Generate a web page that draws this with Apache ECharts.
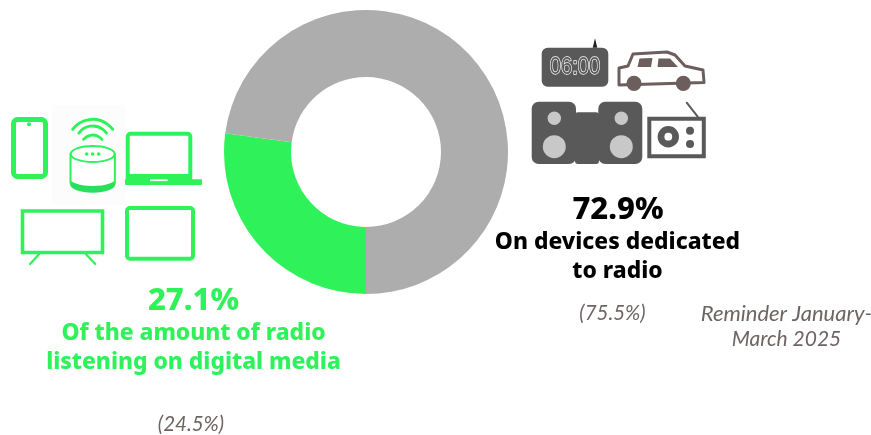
<!DOCTYPE html>
<html>
<head>
<meta charset="utf-8">
<style>html,body{margin:0;padding:0;background:#fff}#chart{width:871px;height:435px}</style>
<script src="https://cdn.jsdelivr.net/npm/echarts@6/dist/echarts.min.js"></script>
</head>
<body>
<div id="chart"></div>
<script>
// Share of radio listening by device type, first quarter comparison
const categories = ['Of the amount of radio listening on digital media', 'On devices dedicated to radio'];
const shares = [27.1, 72.9];
const reminders = ['(24.5%)', '(75.5%)'];
const reminderNote = ['Reminder January-', 'March 2025'];
const digitalLines = ['Of the amount of radio', 'listening on digital media'];
const dedicatedLines = ['On devices dedicated', 'to radio'];
const clockText = '06:00';

const GREEN = '#2ff25a';
const GREY = '#adadad';
const DARK = '#595959';
const BROWN = '#6d5e5e';
const SOFT = '#6f6464';
const HEAD_FONT = '"Noto Sans", sans-serif';
const NOTE_FONT = 'Lato, sans-serif';

const text = (x, y, str, size, fill, weight, style, family) => ({
  type: 'text', x, y, silent: true,
  style: { text: str, fill, align: 'center', verticalAlign: 'middle',
    font: `${style || 'normal'} ${weight} ${size}px ${family || HEAD_FONT}` }
});
const rect = (x, y, w, h, r, style) => ({ type: 'rect', shape: { x, y, width: w, height: h, r }, style, silent: true });
const circle = (cx, cy, r, style) => ({ type: 'circle', shape: { cx, cy, r }, style, silent: true });
const ellipse = (cx, cy, rx, ry, style) => ({ type: 'ellipse', shape: { cx, cy, rx, ry }, style, silent: true });
const line = (x1, y1, x2, y2, stroke, lineWidth) => ({
  type: 'line', shape: { x1, y1, x2, y2 }, style: { stroke, lineWidth, lineCap: 'round' }, silent: true
});
const poly = (points, style) => ({ type: 'polygon', shape: { points }, style, silent: true });
const wave = (cx, cy, r, half) => ({
  type: 'arc', silent: true,
  shape: { cx, cy, r, startAngle: -Math.PI / 2 - half, endAngle: -Math.PI / 2 + half, clockwise: true },
  style: { stroke: GREEN, lineWidth: 2.8, lineCap: 'round', fill: null }
});
const outlineG = (w) => ({ fill: 'none', stroke: GREEN, lineWidth: w });

// Connected devices, left of the ring
const digitalIcons = [
  rect(13.5, 119.5, 32, 57, 4, outlineG(5)),
  circle(29, 124.3, 2, { fill: GREEN }),
  rect(52, 105, 73, 100, 0, { fill: '#fcfcfc' }),
  wave(92.7, 144.3, 25, 0.93),
  wave(92.7, 143, 17, 0.95),
  wave(92.7, 146.9, 11.9, 0.88),
  ellipse(92.7, 184, 22.7, 8.8, { fill: '#28e05c' }),
  rect(70, 154, 45.4, 27, 0, { fill: '#fff' }),
  ellipse(92.7, 178.5, 22.7, 7.5, { fill: '#fff' }),
  line(70.5, 154, 70.5, 183, GREEN, 2),
  line(114.9, 154, 114.9, 183, GREEN, 2),
  ellipse(92.7, 154, 22, 8, { fill: '#fff', stroke: GREEN, lineWidth: 2 }),
  circle(86.7, 154, 1.8, { fill: GREEN }),
  circle(92.7, 154, 1.8, { fill: GREEN }),
  circle(98.7, 154, 1.8, { fill: GREEN }),
  rect(127.7, 133.7, 62.6, 42.6, 3, outlineG(4)),
  rect(125, 179.3, 77, 5.7, 1, { fill: GREEN }),
  rect(125.7, 174, 66.6, 6, 0, { fill: GREEN }),
  rect(150, 179.3, 17.7, 1.8, 0, { fill: '#fff' }),
  rect(22.5, 211, 80, 41.5, 0, outlineG(3.6)),
  line(39, 254.3, 30, 264, GREEN, 2.2),
  line(86, 254.3, 95.3, 264, GREEN, 2.2),
  rect(127, 208, 66, 50.7, 3, outlineG(4))
];

// Dedicated receivers, right of the ring
const dedicatedIcons = [
  poly([[595, 38.3], [592.7, 47.8], [597.3, 47.8]], { fill: '#222' }),
  rect(541.7, 47.7, 66.6, 39, 6, { fill: DARK }),
  {
    type: 'text', x: 575, y: 67.5, silent: true, scaleX: 0.84,
    style: { text: clockText, fill: DARK, stroke: '#ffffff', lineWidth: 1.4, align: 'center', verticalAlign: 'middle',
      font: 'normal 400 24px "Liberation Sans", sans-serif' }
  },
  poly([[619, 68], [628, 66], [633, 54], [667, 52], [675, 55], [685, 66], [703, 70], [704, 82.5], [619, 85]],
    { fill: '#fff', stroke: BROWN, lineWidth: 3, lineJoin: 'round' }),
  poly([[639.5, 58.5], [652.5, 58], [651, 67], [637.5, 67]], { fill: BROWN }),
  poly([[658.5, 58.5], [670, 58.5], [678, 67], [657.5, 67]], { fill: BROWN }),
  circle(634, 83.3, 7.6, { fill: BROWN }),
  circle(683.3, 83.3, 7.6, { fill: BROWN }),
  rect(575, 112.3, 24, 51.7, 3, { fill: DARK }),
  rect(531.7, 101.7, 44.3, 62.3, 7, { fill: DARK }),
  rect(598.3, 101.7, 44, 62.3, 7, { fill: DARK }),
  circle(554.3, 118.3, 6.7, { fill: '#c8c8c8' }),
  circle(554.3, 146.7, 11.5, { fill: '#c8c8c8' }),
  circle(621.3, 118.3, 6.7, { fill: '#c8c8c8' }),
  circle(621.3, 146.7, 11.5, { fill: '#c8c8c8' }),
  line(686.7, 102.7, 697.7, 116.7, DARK, 2),
  rect(649.3, 118.8, 54.5, 37.5, 0, { fill: '#fff', stroke: DARK, lineWidth: 4 }),
  circle(668.3, 136.7, 7.3, { fill: '#fff', stroke: DARK, lineWidth: 6.8 }),
  circle(690, 130.7, 4, { fill: DARK }),
  circle(690, 144, 4, { fill: DARK })
];

const captions = [
  text(193.5, 301.5, shares[0].toFixed(1) + '%', 31, GREEN, 800),
  text(193.5, 334, digitalLines[0], 22.8, GREEN, 800),
  text(193.5, 363, digitalLines[1], 22.8, GREEN, 800),
  text(191, 424, reminders[0], 20.5, SOFT, 400, 'italic', NOTE_FONT),
  text(618, 210.5, shares[1].toFixed(1) + '%', 31, '#000', 800),
  text(617.5, 243, dedicatedLines[0], 22.8, '#000', 800),
  text(617.5, 272, dedicatedLines[1], 22.8, '#000', 800),
  text(612.5, 313, reminders[1], 20.5, SOFT, 400, 'italic', NOTE_FONT),
  text(786.5, 314, reminderNote[0], 22, SOFT, 400, 'italic', NOTE_FONT),
  text(786.5, 339, reminderNote[1], 21, SOFT, 400, 'italic', NOTE_FONT)
];

const chart = echarts.init(document.getElementById('chart'), null, { renderer: 'canvas' });
chart.setOption({
  animation: false,
  backgroundColor: '#ffffff',
  series: [{
    type: 'pie',
    center: [366, 152],
    radius: [75, 142],
    startAngle: 270,
    clockwise: true,
    silent: true,
    label: { show: false },
    labelLine: { show: false },
    data: categories.map((name, i) => ({
      name, value: shares[i], itemStyle: { color: i === 0 ? GREEN : GREY }
    }))
  }],
  graphic: { elements: [...digitalIcons, ...dedicatedIcons, ...captions] }
});
</script>
</body>
</html>
